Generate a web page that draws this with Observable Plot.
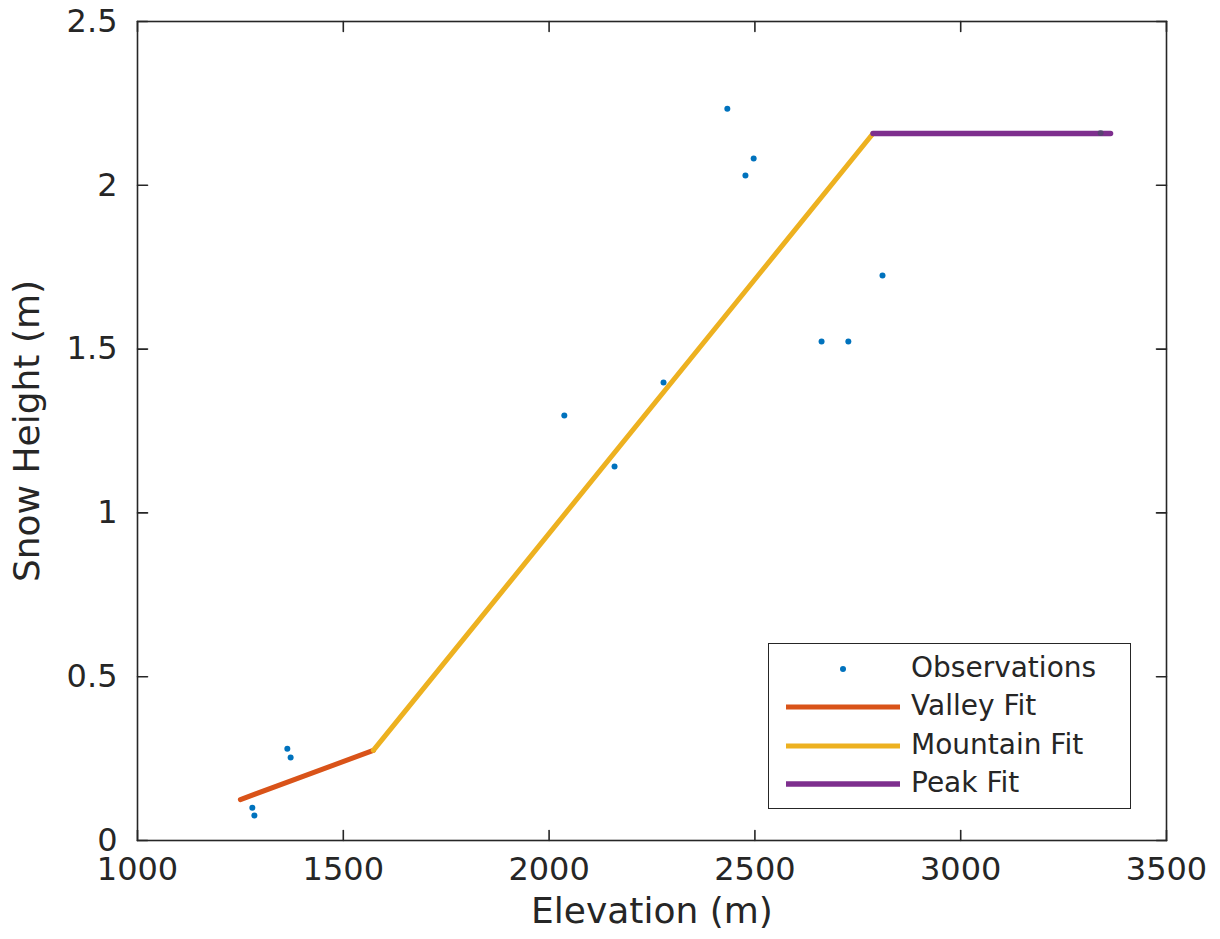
<!DOCTYPE html>
<html>
<head>
<meta charset="utf-8">
<script src="https://cdn.jsdelivr.net/npm/d3@7"></script>
<script src="https://cdn.jsdelivr.net/npm/@observablehq/plot@0.6"></script>
<style>
  html, body { margin: 0; padding: 0; background: #fff; }
  #wrap { position: relative; width: 1220px; height: 939px; }
  #legend {
    position: absolute; left: 768px; top: 643px; width: 361px; height: 164px;
    border: 1.6px solid #262626; background: #fff; box-sizing: content-box;
    font-family: "DejaVu Sans", sans-serif; font-size: 28px; color: #262626;
  }
  .row { position: absolute; left: 0; height: 38px; width: 100%; }
  .row svg { position: absolute; left: 17px; top: 0; }
  .row span { position: absolute; left: 142px; top: 50%; transform: translateY(-54%); white-space: nowrap; }
</style>
</head>
<body>
<div id="wrap"></div>
<script>
// Observations
const obsElev   = [1279, 1284, 1364, 1372, 2037, 2159, 2278, 2433, 2477, 2497, 2662, 2727, 2810];
const obsHeight = [0.100, 0.076, 0.280, 0.253, 1.297, 1.142, 1.398, 2.234, 2.030, 2.082, 1.523, 1.523, 1.725];
// hidden observation at the end of the peak fit
const endObsElev = [3340];
const endObsHeight = [2.16];

// Fit lines (endpoints)
const valleyElev = [1250, 1573];
const valleyHeight = [0.125, 0.275];
const mountainElev = [1573, 2787];
const mountainHeight = [0.275, 2.158];
const peakElev = [2787, 3364];
const peakHeight = [2.158, 2.158];

const xTicks = [1000, 1500, 2000, 2500, 3000, 3500];
const yTicks = [0, 0.5, 1, 1.5, 2, 2.5];

const seriesNames = ["Observations", "Valley Fit", "Mountain Fit", "Peak Fit"];
const seriesColors = ["#0072BD", "#D95319", "#EDB120", "#7E2F8E"];

const zip = (xs, ys) => xs.map((x, i) => ({x, y: ys[i]}));
const obs = zip(obsElev, obsHeight);
const endObs = zip(endObsElev, endObsHeight);
const valley = zip(valleyElev, valleyHeight);
const mountain = zip(mountainElev, mountainHeight);
const peak = zip(peakElev, peakHeight);

const ink = "#262626";
const tickShape = { draw(ctx, l) { ctx.moveTo(0, 0); ctx.lineTo(0, -l); } };
const tickLen = 10;

const chart = Plot.plot({
  width: 1220,
  height: 939,
  marginLeft: 137,
  marginRight: 54,
  marginTop: 21,
  marginBottom: 99,
  style: { fontFamily: "DejaVu Sans, sans-serif", color: ink, background: "#fff" },
  x: { domain: [1000, 3500] },
  y: { domain: [0, 2.5] },
  marks: [
    Plot.axisX(xTicks, {
      tickSize: 0, tickPadding: 17, fontSize: 32, tickFormat: d => String(d),
      label: "Elevation (m)", labelAnchor: "center", labelOffset: 82, labelArrow: "none"
    }),
    Plot.axisY(yTicks, {
      tickSize: 0, tickPadding: 20, fontSize: 32, tickFormat: d => String(d),
      label: "Snow Height (m)", labelAnchor: "center", labelOffset: 124, labelArrow: "none"
    }),
    Plot.line(valley, {x: "x", y: "y", stroke: seriesColors[1], strokeWidth: 5}),
    Plot.line(mountain, {x: "x", y: "y", stroke: seriesColors[2], strokeWidth: 5}),
    Plot.line(peak, {x: "x", y: "y", stroke: seriesColors[3], strokeWidth: 5.5}),
    Plot.dot(obs, {x: "x", y: "y", r: 3, fill: seriesColors[0], stroke: "none"}),
    Plot.dot(endObs, {x: "x", y: "y", r: 3, fill: "#4a4a66", stroke: "none", fillOpacity: 0.7}),
    // inward tick marks on all four sides
    Plot.vector(xTicks, {x: d => d, frameAnchor: "bottom", length: tickLen, rotate: 0, anchor: "start", shape: tickShape, stroke: ink, strokeWidth: 1.6}),
    Plot.vector(xTicks, {x: d => d, frameAnchor: "top", length: tickLen, rotate: 180, anchor: "start", shape: tickShape, stroke: ink, strokeWidth: 1.6}),
    Plot.vector(yTicks, {y: d => d, frameAnchor: "left", length: tickLen, rotate: 90, anchor: "start", shape: tickShape, stroke: ink, strokeWidth: 1.6}),
    Plot.vector(yTicks, {y: d => d, frameAnchor: "right", length: tickLen, rotate: -90, anchor: "start", shape: tickShape, stroke: ink, strokeWidth: 1.6}),
    Plot.frame({stroke: ink, strokeWidth: 1.6})
  ]
});
chart.querySelectorAll("text").forEach(t => t.setAttribute("fill", ink));
chart.querySelectorAll("[aria-label='x-axis label'] text, [aria-label='y-axis label'] text").forEach(t => t.setAttribute("font-size", 36));

const wrap = document.getElementById("wrap");
wrap.appendChild(chart);

// legend overlay
const legend = document.createElement("div");
legend.id = "legend";
const rowTops = [6, 44, 83, 121];
seriesNames.forEach((name, i) => {
  const row = document.createElement("div");
  row.className = "row";
  row.style.top = rowTops[i] + "px";
  const sample = i === 0
    ? `<circle cx="57" cy="19" r="3" fill="${seriesColors[0]}"/>`
    : `<line x1="0" x2="114" y1="19" y2="19" stroke="${seriesColors[i]}" stroke-width="${i === 3 ? 5.5 : 5}"/>`;
  row.innerHTML = `<svg width="114" height="38">${sample}</svg><span>${name}</span>`;
  legend.appendChild(row);
});
wrap.appendChild(legend);
</script>
</body>
</html>
